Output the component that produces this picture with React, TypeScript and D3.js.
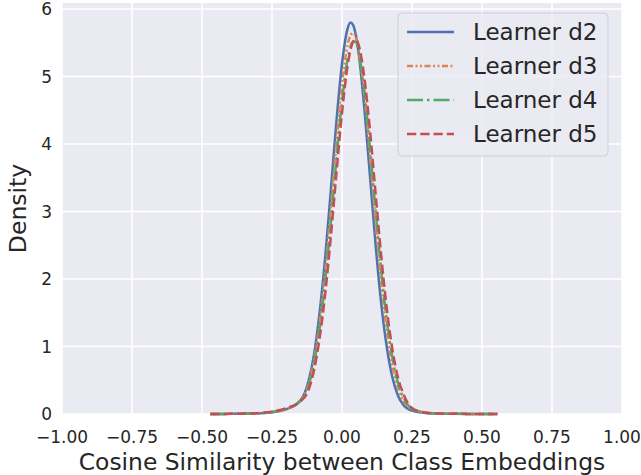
import React from 'react';
import * as d3 from 'd3';

const width = 641;
const height = 475;
const margin = { top: 3, right: 19, bottom: 61, left: 62 };

// cosine similarity grid shared by all curves
const xs = [-0.47, -0.4, -0.35, -0.3, -0.25, -0.2, -0.15, -0.12, -0.1, -0.08, -0.06, -0.04, -0.02, 0, 0.02, 0.03, 0.04, 0.05, 0.06, 0.08, 0.1, 0.12, 0.14, 0.16, 0.18, 0.2, 0.22, 0.25, 0.3, 0.35, 0.4, 0.5, 0.555];

const learnerD2 = [0, 0.002, 0.005, 0.01, 0.025, 0.07, 0.19, 0.48, 0.88, 1.5, 2.32, 3.31, 4.33, 5.19, 5.71, 5.8, 5.76, 5.6, 5.33, 4.52, 3.52, 2.51, 1.64, 0.99, 0.54, 0.27, 0.13, 0.05, 0.015, 0.006, 0.003, 0.001, 0];
const learnerD3 = [0, 0.002, 0.005, 0.011, 0.028, 0.075, 0.2, 0.44, 0.81, 1.36, 2.12, 3.04, 4.01, 4.88, 5.47, 5.61, 5.65, 5.57, 5.38, 4.72, 3.82, 2.84, 1.95, 1.24, 0.72, 0.39, 0.19, 0.07, 0.02, 0.007, 0.003, 0.001, 0];
const learnerD4 = [0, 0.002, 0.005, 0.011, 0.03, 0.08, 0.19, 0.41, 0.75, 1.26, 1.97, 2.83, 3.77, 4.63, 5.26, 5.44, 5.52, 5.51, 5.34, 4.79, 3.95, 3.02, 2.13, 1.39, 0.84, 0.46, 0.24, 0.08, 0.02, 0.007, 0.003, 0.001, 0];
const learnerD5 = [0, 0.002, 0.006, 0.013, 0.035, 0.085, 0.18, 0.35, 0.65, 1.12, 1.78, 2.62, 3.56, 4.46, 5.16, 5.39, 5.52, 5.55, 5.46, 4.98, 4.2, 3.27, 2.35, 1.56, 0.96, 0.54, 0.29, 0.09, 0.02, 0.007, 0.003, 0.001, 0];

const seriesNames = ['Learner d2', 'Learner d3', 'Learner d4', 'Learner d5'];
const xTicks = [-1, -0.75, -0.5, -0.25, 0, 0.25, 0.5, 0.75, 1];
const yTicks = [0, 1, 2, 3, 4, 5, 6];

const series = [
  { name: seriesNames[0], values: learnerD2, color: '#4c72b0', dash: null },
  { name: seriesNames[1], values: learnerD3, color: '#dd8452', dash: '6,2.5,2,2.5,2,2.5' },
  { name: seriesNames[2], values: learnerD4, color: '#55a868', dash: '16,4,2.5,4' },
  { name: seriesNames[3], values: learnerD5, color: '#c44e52', dash: '9.25,4' }
];

const textColor = '#262626';
const font = 'DejaVu Sans, sans-serif';

export default function App() {
  const x = d3.scaleLinear().domain([-1, 1]).range([margin.left, width - margin.right]);
  const y = d3.scaleLinear().domain([0, 6.09]).range([height - margin.bottom, margin.top]);

  const line = d3
    .line<number>()
    .x((d, i) => x(xs[i]))
    .y(d => y(d))
    .curve(d3.curveMonotoneX);

  const fmt = d3.format('.2f');
  const legendX = 398;
  const legendY = 13;

  return (
    <svg width={width} height={height} style={{ position: 'absolute', left: 0, top: 0 }} fontFamily={font}>
      <rect x={margin.left} y={margin.top} width={x(1) - x(-1)} height={y(0) - y(6.09)} fill="#eaeaf2" />
      {xTicks.map(t => (
        <line key={'gx' + t} x1={x(t)} x2={x(t)} y1={y(0)} y2={y(6.09)} stroke="#fff" strokeWidth={1.5} />
      ))}
      {yTicks.map(t => (
        <line key={'gy' + t} x1={x(-1)} x2={x(1)} y1={y(t)} y2={y(t)} stroke="#fff" strokeWidth={1.5} />
      ))}

      {series.map(s => (
        <path
          key={s.name}
          d={line(s.values) || ''}
          fill="none"
          stroke={s.color}
          strokeWidth={2.5}
          strokeDasharray={s.dash || undefined}
        />
      ))}

      {xTicks.map(t => (
        <text key={'tx' + t} x={x(t)} y={y(0) + 29} textAnchor="middle" fontSize={17} fill={textColor}>
          {fmt(t).replace('-', '\u2212')}
        </text>
      ))}
      {yTicks.map(t => (
        <text key={'ty' + t} x={x(-1) - 10} y={y(t) + 6} textAnchor="end" fontSize={17} fill={textColor}>
          {t}
        </text>
      ))}

      <text x={x(0)} y={height - 5} textAnchor="middle" fontSize={23.4} fill={textColor}>
        Cosine Similarity between Class Embeddings
      </text>
      <text
        transform={`translate(26, ${(y(0) + y(6.09)) / 2}) rotate(-90)`}
        textAnchor="middle"
        fontSize={23.5}
        fill={textColor}
      >
        Density
      </text>

      <g>
        <rect
          x={legendX}
          y={legendY}
          width={210}
          height={143}
          rx={4}
          fill="#eaeaf2"
          fillOpacity={0.8}
          stroke="#cfcfd6"
        />
        {series.map((s, i) => {
          const cy = 32 + i * 34;
          return (
            <g key={'lg' + s.name}>
              <line x1={407} x2={454} y1={cy} y2={cy} stroke={s.color} strokeWidth={2.5} strokeDasharray={s.dash || undefined} />
              <text x={473} y={cy + 8} fontSize={23} fill={textColor}>
                {s.name}
              </text>
            </g>
          );
        })}
      </g>
    </svg>
  );
}
